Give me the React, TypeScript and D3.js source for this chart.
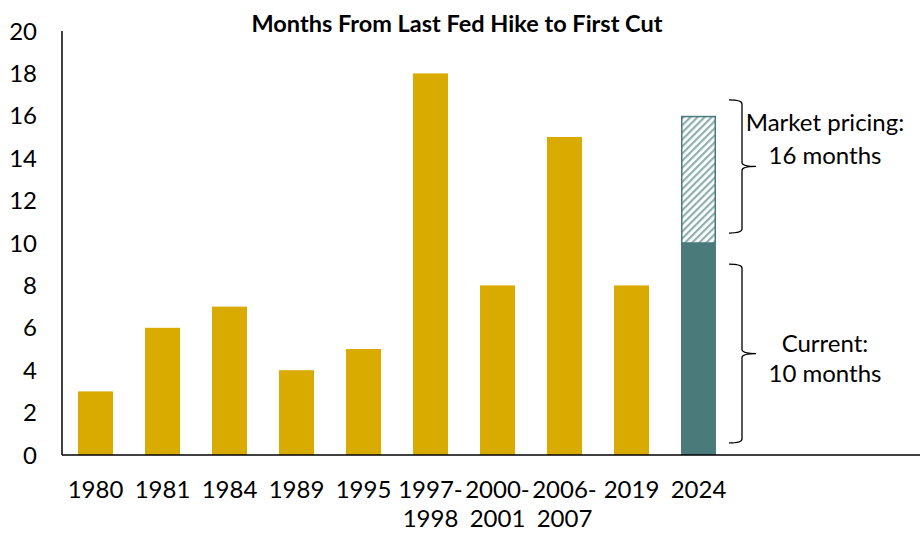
import React from "react";
import * as d3 from "d3";

const categories: string[][] = [
  ["1980"], ["1981"], ["1984"], ["1989"], ["1995"],
  ["1997-", "1998"], ["2000-", "2001"], ["2006-", "2007"], ["2019"], ["2024"],
];
const months: number[] = [3, 6, 7, 4, 5, 18, 8, 15, 8, 10];
const marketExtra: number[] = [0, 0, 0, 0, 0, 0, 0, 0, 0, 6];
const yTicks: number[] = [0, 2, 4, 6, 8, 10, 12, 14, 16, 18, 20];

const annotations = [
  { lines: ["Market pricing:", "16 months"], from: 16.75, to: 10.47 },
  { lines: ["Current:", "10 months"], from: 9.0, to: 0.57 },
];

const W = 920;
const H = 533;
const FONT = "Lato, 'Open Sans', sans-serif";
const GOLD = "#D9AB00";
const TEAL = "#4A7A7A";
const HATCH = "#8FB0B0";

export default function App() {
  const keys = categories.map((c) => c.join(" "));
  const x = d3
    .scaleBand<string>()
    .domain(keys)
    .range([62, 732])
    .paddingInner(0.478)
    .paddingOuter(0.239);
  const y = d3.scaleLinear().domain([0, 20]).range([455, 31]);
  const bw = x.bandwidth();
  const lastKey = keys[keys.length - 1];

  const bracketPath = (y0: number, y1: number) => {
    const xl = 729;
    const xv = 742;
    const xt = 756;
    const ym = (y0 + y1) / 2;
    const r = 4;
    return [
      `M${xl},${y0}`,
      `Q${xv},${y0} ${xv},${y0 + r}`,
      `L${xv},${ym - r}`,
      `Q${xv},${ym} ${xt},${ym}`,
      `Q${xv},${ym} ${xv},${ym + r}`,
      `L${xv},${y1 - r}`,
      `Q${xv},${y1} ${xl},${y1}`,
    ].join(" ");
  };

  return (
    <svg
      width={W}
      height={H}
      style={{ position: "absolute", left: 0, top: 0, background: "#fff" }}
      fontFamily={FONT}
    >
      <defs>
        <pattern
          id="hatch"
          patternUnits="userSpaceOnUse"
          width={5}
          height={5}
          patternTransform="rotate(45)"
        >
          <rect width={5} height={5} fill="#fff" />
          <rect width={2.2} height={5} fill={HATCH} />
        </pattern>
      </defs>

      <text
        x={457}
        y={32}
        textAnchor="middle"
        fontSize={23.5}
        fontWeight={700}
        fill="#000"
      >
        Months From Last Fed Hike to First Cut
      </text>

      {yTicks.map((t) => (
        <text
          key={t}
          x={37}
          y={y(t)}
          dy="0.36em"
          textAnchor="end"
          fontSize={24}
          fill="#000"
        >
          {t}
        </text>
      ))}

      {keys.map((k, i) => (
        <rect
          key={k}
          x={x(k)}
          y={y(months[i])}
          width={bw}
          height={y(0) - y(months[i])}
          fill={k === lastKey ? TEAL : GOLD}
        />
      ))}

      {keys.map((k, i) =>
        marketExtra[i] > 0 ? (
          <rect
            key={"m" + k}
            x={(x(k) as number) + 0.75}
            y={y(months[i] + marketExtra[i]) + 0.75}
            width={bw - 1.5}
            height={y(months[i]) - y(months[i] + marketExtra[i]) - 0.75}
            fill="url(#hatch)"
            stroke={TEAL}
            strokeWidth={1.5}
          />
        ) : null
      )}

      <line x1={62} x2={920} y1={y(0)} y2={y(0)} stroke="#000" strokeWidth={1.5} />
      <line x1={62} x2={62} y1={y(20)} y2={y(0)} stroke="#000" strokeWidth={1.5} />

      {keys.map((k, i) =>
        categories[i].map((line, j) => (
          <text
            key={k + j}
            x={(x(k) as number) + bw / 2}
            y={498 + j * 29}
            textAnchor="middle"
            fontSize={24}
            fill="#000"
          >
            {line}
          </text>
        ))
      )}

      {annotations.map((a) => {
        const y0 = y(a.from);
        const y1 = y(a.to);
        const ym = (y0 + y1) / 2;
        const upper = a.from > 10;
        return (
          <g key={a.lines[0]}>
            <path d={bracketPath(y0, y1)} fill="none" stroke="#000" strokeWidth={1.3} />
            {a.lines.map((l, j) => (
              <text
                key={l}
                x={825}
                y={(upper ? ym - 35 : ym - 1.5) + j * (upper ? 33 : 30)}
                textAnchor="middle"
                fontSize={24}
                fill="#000"
              >
                {l}
              </text>
            ))}
          </g>
        );
      })}
    </svg>
  );
}
